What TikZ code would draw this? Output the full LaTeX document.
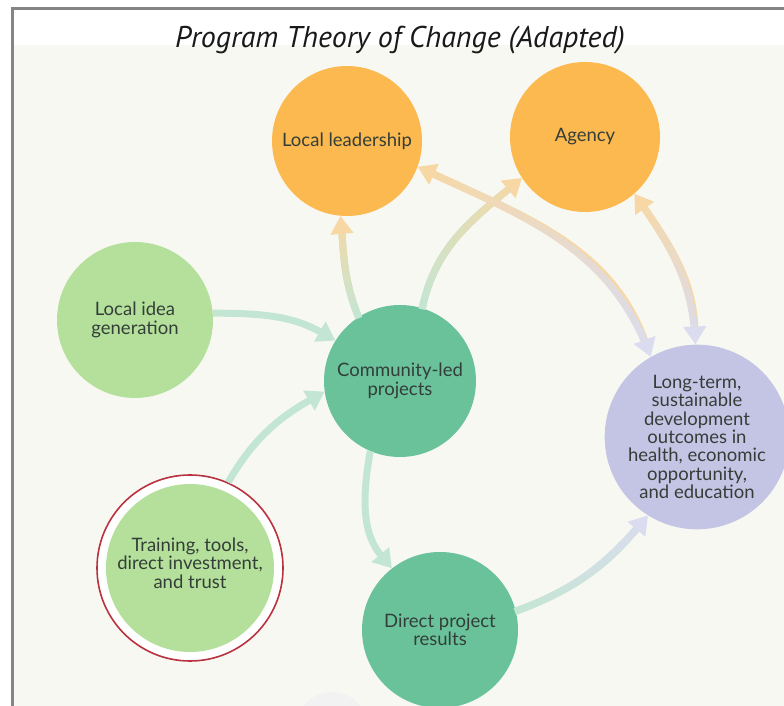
\documentclass[tikz,border=0pt]{standalone}
\usepackage{fontspec}
\setmainfont{Lato}
\newfontfamily\titlefont{PT Sans}
\usetikzlibrary{arrows.meta,decorations.markings}

\definecolor{paper}{HTML}{F8F8F3}
\definecolor{framegray}{HTML}{858585}
\definecolor{amber}{HTML}{FCB94F}
\definecolor{leafgreen}{HTML}{B4E09B}
\definecolor{seagreen}{HTML}{69C29A}
\definecolor{lavender}{HTML}{C4C5E4}
\definecolor{ringred}{HTML}{B8323F}
\definecolor{ink}{HTML}{343E38}
\definecolor{mintline}{HTML}{C3E6D3}
\definecolor{orangeline}{HTML}{F7D8A4}
\definecolor{lavline}{HTML}{DBDCEF}

\tikzset{
  bubble/.style={circle, inner sep=0pt, align=center, text=ink,
    font=\fontsize{18.5}{18.4}\selectfont},
  % plain connector in one colour
  link/.style={line width=7pt, draw=#1, -{Triangle[width=22pt,length=18pt]}},
  % connector whose colour runs from #1 (tail) to #2 (head)
  fadelink/.style 2 args={line width=7pt, draw=#1,
    -{Triangle[width=22pt,length=18pt,color=#2]},
    postaction={decorate, decoration={markings,
      mark=between positions 0 and -18pt step 1.5pt with {%
        \pgfmathsetmacro\gp{100*(\pgfkeysvalueof{/pgf/decoration/mark info/distance from start}/\pgfdecoratedpathlength)}%
        \fill[fill=#2!\gp!#1] (-1.2pt,-3.5pt) rectangle (1.2pt,3.5pt);}}}},
  % two-headed connector, colour from #1 to #2
  fadeboth/.style 2 args={line width=7pt, draw=#1,
    {Triangle[width=22pt,length=18pt,color=#1]}-{Triangle[width=22pt,length=18pt,color=#2]},
    postaction={decorate, decoration={markings,
      mark=between positions 18pt and -18pt step 1.5pt with {%
        \pgfmathsetmacro\gp{100*(\pgfkeysvalueof{/pgf/decoration/mark info/distance from start}/\pgfdecoratedpathlength)}%
        \fill[fill=#2!\gp!#1] (-1.2pt,-3.5pt) rectangle (1.2pt,3.5pt);}}}},
}

\begin{document}
\begin{tikzpicture}[x=1pt,y=1pt]
  \useasboundingbox (0,0) rectangle (784,706);
  \fill[white] (0,0) rectangle (784,706);
  % page area below the heading
  \fill[paper] (14,0) rectangle (784,661);
  % frame
  \draw[framegray, line width=3pt] (11,697.5) -- (784,697.5);
  \draw[framegray, line width=3pt] (12.5,699) -- (12.5,0);

  % faint shape at the lower edge
  \fill[black!5] (332,-22) circle (36);

  % heading
  \node[font=\titlefont\itshape\fontsize{30}{32}\selectfont, text=black!90] (title) at (400,666) {Program Theory of Change (Adapted)};

  % circles
  \node[bubble, fill=amber, minimum size=150pt] (lead) at (347,565) {Local leadership};
  \node[bubble, fill=amber, minimum size=150pt] (agency) at (585,569) {Agency};
  \node[bubble, fill=leafgreen, minimum size=156pt] (idea) at (135,386) {Local idea\\generation};
  \node[bubble, fill=seagreen, minimum size=152pt] (proj) at (400,325) {Community-led\\projects};
  \node[bubble, fill=lavender, minimum size=154pt] (goal) at (697,269) {Long-term,\\sustainable\\development\\outcomes in\\health, economic\\opportunity,\\and education};
  \node[circle, draw=ringred, line width=1.6pt, fill=white, minimum size=186pt] (trainring) at (190,138) {};
  \node[bubble, fill=leafgreen, minimum size=168pt] (train) at (190,138) {};
  \node[bubble] (traintext) at (190,143) {Training, tools,\\direct investment,\\and trust};
  \node[bubble, fill=seagreen, minimum size=156pt] (result) at (440,76) {Direct project\\results};

  % connectors
  \draw[link=mintline] (idea.5) to[out=0,in=150] (proj.148);
  \draw[link=mintline] (trainring.66) to[out=60,in=210] (proj.188);
  \draw[fadelink={mintline}{orangeline}] (proj.123) to[out=112,in=-85] (lead.-95);
  \draw[fadelink={mintline}{orangeline}] (proj.73) to[out=78,in=220] (agency.-147);
  \draw[link=mintline] (proj.-113) to[out=-100,in=130] (result.128);
  \draw[fadelink={mintline}{lavline}] (result.14) to[out=20,in=-130] (goal.-122);
  \draw[fadeboth={orangeline}{lavline}] (lead.-20) to[out=-25,in=110] (goal.120);
  \draw[fadeboth={orangeline}{lavline}] (agency.-49) to[out=-55,in=92] (goal.91);
\end{tikzpicture}
\end{document}
